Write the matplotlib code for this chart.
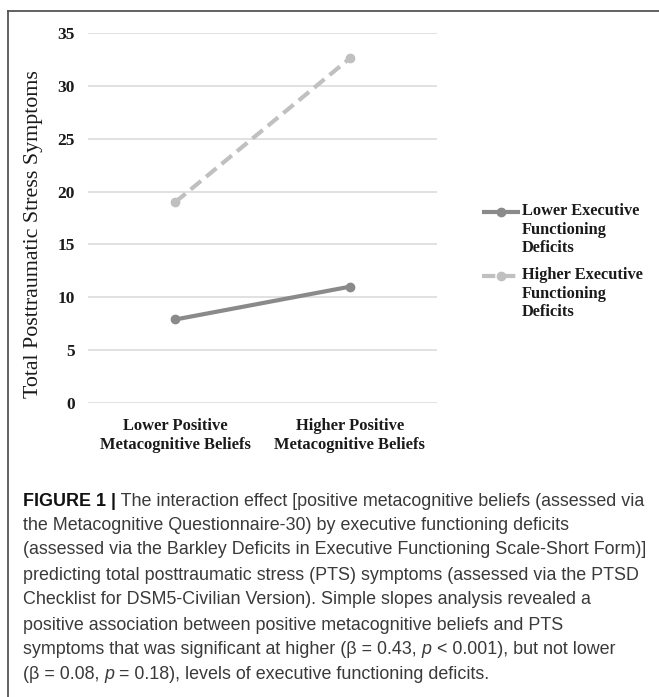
import matplotlib
matplotlib.use("Agg")
import matplotlib.pyplot as plt
from matplotlib.lines import Line2D

# ---- data ----
categories = ["Lower Positive\nMetacognitive Beliefs", "Higher Positive\nMetacognitive Beliefs"]
series_names = ["Lower Executive\nFunctioning\nDeficits", "Higher Executive\nFunctioning\nDeficits"]
lower_ef = [7.9, 11.0]
higher_ef = [19.0, 32.6]
yticks = [0, 5, 10, 15, 20, 25, 30, 35]
ylabel = "Total Posttraumatic Stress Symptoms"

caption_lines = [
    [("FIGURE 1 |", "bold", "normal"), (" The interaction effect [positive metacognitive beliefs (assessed via", "normal", "normal")],
    [("the Metacognitive Questionnaire-30) by executive functioning deficits", "normal", "normal")],
    [("(assessed via the Barkley Deficits in Executive Functioning Scale-Short Form)]", "normal", "normal")],
    [("predicting total posttraumatic stress (PTS) symptoms (assessed via the PTSD", "normal", "normal")],
    [("Checklist for DSM5-Civilian Version). Simple slopes analysis revealed a", "normal", "normal")],
    [("positive association between positive metacognitive beliefs and PTS", "normal", "normal")],
    [("symptoms that was significant at higher (\u03b2 = 0.43, ", "normal", "normal"), ("p", "normal", "italic"),
     (" < 0.001), but not lower", "normal", "normal")],
    [("(\u03b2 = 0.08, ", "normal", "normal"), ("p", "normal", "italic"), (" = 0.18), levels of executive functioning deficits.", "normal", "normal")],
]

W, H = 659, 697
fig = plt.figure(figsize=(W / 100, H / 100), dpi=100)

def fx(px):
    return px / W

def fy(py):
    return 1 - py / H

serif = ["Liberation Serif", "DejaVu Serif"]
sans = ["Liberation Sans", "DejaVu Sans"]

ax = fig.add_axes([fx(88), fy(403), fx(437) - fx(88), fy(33) - fy(403)])
x = [0, 1]
c_low = "#8a8a8a"
c_high = "#c0c0c0"
ax.plot(x, lower_ef, color=c_low, lw=3.0, marker="o", ms=6, solid_capstyle="butt", zorder=3)
ax.plot(x, higher_ef, color=c_high, lw=3.0, marker="o", ms=6, dashes=(3.2, 1.6), zorder=3)
ax.set_xlim(-0.5, 1.5)
ax.set_ylim(0, 35)
ax.set_yticks(yticks)
ax.set_yticklabels([str(t) for t in yticks], fontfamily=serif, fontweight="bold", fontsize=12.5, color="#1a1a1a")
ax.set_xticks(x)
ax.set_xticklabels(categories, fontfamily=serif, fontweight="bold", fontsize=11.9, color="#1a1a1a", linespacing=1.2)
ax.tick_params(axis="both", length=0)
ax.tick_params(axis="y", pad=9.5)
ax.tick_params(axis="x", pad=11)
ax.grid(axis="y", color="#d9d9d9", lw=1.1)
ax.set_axisbelow(True)
for s in ax.spines.values():
    s.set_visible(False)

fig.text(fx(34), fy(234), ylabel, rotation=90, ha="center", va="center",
         fontfamily=serif, fontsize=15.8, color="#1a1a1a")

# legend (manual)
leg_items = [(series_names[0], c_low, None, 212), (series_names[1], c_high, (3.2, 1.6), 276)]
for name, col, dash, ypx in leg_items:
    ln = Line2D([fx(482), fx(520)], [fy(ypx), fy(ypx)], transform=fig.transFigure,
                color=col, lw=3.0, solid_capstyle="butt")
    if dash:
        ln.set_dashes(dash)
    fig.add_artist(ln)
    mk = Line2D([fx(501)], [fy(ypx)], transform=fig.transFigure, color=col, marker="o", ms=6, lw=0)
    fig.add_artist(mk)
    fig.text(fx(522), fy(ypx - 9), name, ha="left", va="top", fontfamily=serif, fontweight="bold",
             fontsize=11.8, color="#1a1a1a", linespacing=1.22)

# frame
fig.add_artist(Line2D([fx(7.5), 1], [fy(10.7), fy(10.7)], transform=fig.transFigure, color="#555555", lw=1.3))
fig.add_artist(Line2D([fx(7.5), fx(7.5)], [fy(10.7), 0], transform=fig.transFigure, color="#555555", lw=1.3))

# caption
fig.canvas.draw()
renderer = fig.canvas.get_renderer()
cap_size = 12.9
line_y = [499, 523.5, 548, 573, 598, 623, 648, 672.5]
for runs, ypx in zip(caption_lines, line_y):
    xpos = 23
    for txt, weight, style in runs:
        col = "#111111" if weight == "bold" else "#3a3a3a"
        t = fig.text(fx(xpos), fy(ypx), txt, ha="left", va="center_baseline", fontfamily=sans,
                     fontweight=weight, fontstyle=style, fontsize=cap_size, color=col)
        bb = t.get_window_extent(renderer=renderer)
        xpos += bb.width

fig.savefig("out.png", dpi=100)
